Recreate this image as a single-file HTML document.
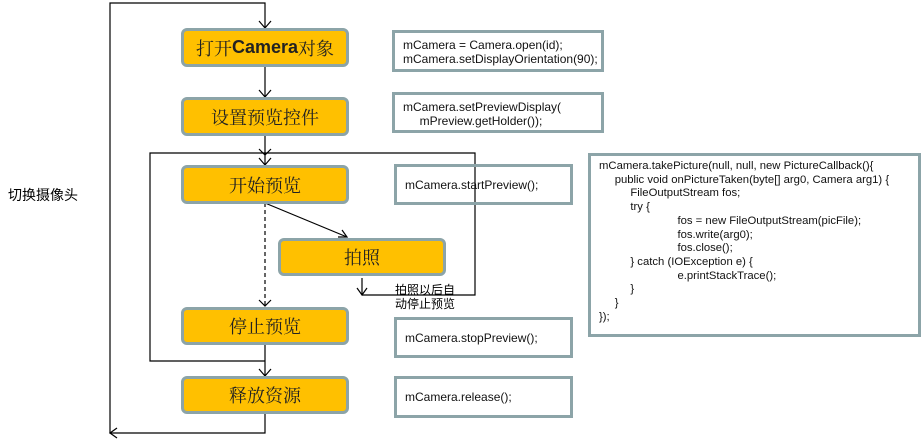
<!DOCTYPE html>
<html><head><meta charset="utf-8"><style>
body{margin:0;width:923px;height:442px;background:#fff;position:relative;overflow:hidden;font-family:"Liberation Sans","Noto Sans CJK SC",sans-serif}
.b{position:absolute;background:#ffc000;border:3px solid #8ca4a8;border-radius:6px;box-sizing:border-box;display:flex;align-items:center;justify-content:center;font-size:18px;color:#222;font-family:"Liberation Serif","Noto Serif CJK SC",serif}
.c{position:absolute;border:3px solid #8ca4a8;box-sizing:border-box;font-size:12px;line-height:14px;color:#111;padding:5px 8px;white-space:pre}
.t{position:absolute;font-size:12px;line-height:14px;color:#000}
</style></head><body>
<svg width="923" height="442" style="position:absolute;left:0;top:0">
<g stroke="#000" stroke-width="1.2" fill="none">
<polyline points="265,413 265,433 110,433 110,3 265,3 265,28"/>
<polyline points="259,21 265,28 271,21"/>
<line x1="265" y1="66" x2="265" y2="97"/><polyline points="259,90 265,97 271,90"/>
<line x1="265" y1="135" x2="265" y2="165"/><polyline points="259,158 265,165 271,158"/>
<polyline points="259,149 265,155 271,149"/>
<polyline points="265,361 150,361 150,153 475,153 475,295 362,295"/>
<line x1="362" y1="278" x2="362" y2="295"/><polyline points="357,288 362,295 367,288"/>
<line x1="265" y1="203" x2="347" y2="237"/><polyline points="338,237 347,237 342,230"/>
<line x1="265" y1="203" x2="265" y2="306" stroke-dasharray="4,3"/><polyline points="259,300 265,306 271,300"/>
<line x1="265" y1="344" x2="265" y2="376"/><polyline points="259,369 265,376 271,369"/>
<polyline points="117,428 110,433 117,438"/>
</g></svg>
<div class="b" style="left:181px;top:28px;width:168px;height:39px">打开<b style="font-family:'Liberation Sans';font-weight:bold">Camera</b>对象</div>
<div class="b" style="left:181px;top:97px;width:168px;height:39px">设置预览控件</div>
<div class="b" style="left:181px;top:165px;width:168px;height:39px">开始预览</div>
<div class="b" style="left:278px;top:238px;width:168px;height:38px">拍照</div>
<div class="b" style="left:181px;top:307px;width:168px;height:38px">停止预览</div>
<div class="b" style="left:181px;top:376px;width:168px;height:38px">释放资源</div>
<div class="c" style="left:392px;top:30px;width:212px;height:42px">mCamera = Camera.open(id);
mCamera.setDisplayOrientation(90);</div>
<div class="c" style="left:392px;top:92px;width:212px;height:41px">mCamera.setPreviewDisplay(
     mPreview.getHolder());</div>
<div class="c" style="left:394px;top:164px;width:179px;height:41px;padding-top:11px">mCamera.startPreview();</div>
<div class="c" style="left:394px;top:317px;width:179px;height:41px;padding-top:11px">mCamera.stopPreview();</div>
<div class="c" style="left:394px;top:376px;width:179px;height:42px;padding-top:11px">mCamera.release();</div>
<div class="c" style="left:588px;top:153px;width:333px;height:184px;font-size:11.3px;line-height:13.7px;padding:4px 8px">mCamera.takePicture(null, null, new PictureCallback(){
     public void onPictureTaken(byte[] arg0, Camera arg1) {
          FileOutputStream fos;
          try {
                         fos = new FileOutputStream(picFile);
                         fos.write(arg0);
                         fos.close();
          } catch (IOException e) {
                         e.printStackTrace();
          }
     }
});</div>
<div class="t" style="left:8px;top:188px;font-size:14px">切换摄像头</div>
<div class="t" style="left:395px;top:283px">拍照以后自<br>动停止预览</div>
</body></html>
